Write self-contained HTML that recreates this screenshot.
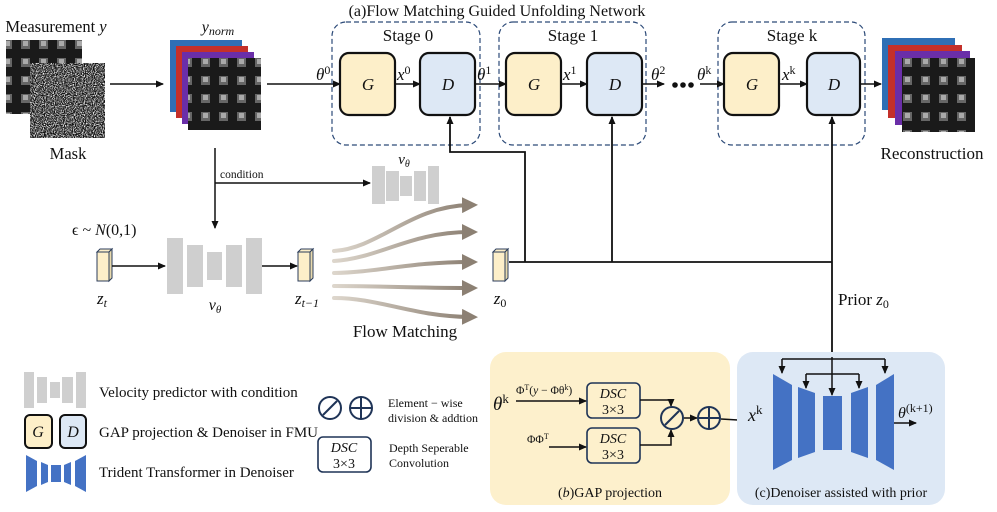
<!DOCTYPE html>
<html><head><meta charset="utf-8"><style>
html,body{margin:0;padding:0;background:#fff;}
svg{display:block;}
text{font-family:"Liberation Serif","DejaVu Serif",serif;fill:#111;}
.i{font-style:italic;}
</style></head><body>
<svg width="997" height="512" viewBox="0 0 997 512" xmlns="http://www.w3.org/2000/svg">
<defs>
<marker id="a" markerWidth="8" markerHeight="8" refX="7" refY="4" orient="auto" markerUnits="userSpaceOnUse"><path d="M0,0.5 L8,4 L0,7.5 Z" fill="#111"/></marker>
<marker id="fa" markerWidth="16" markerHeight="16" refX="8" refY="8" orient="auto" markerUnits="userSpaceOnUse"><path d="M0,0 L16,8 L0,16 Z" fill="#8c8073"/></marker>
<filter id="noise" x="0" y="0" width="100%" height="100%"><feTurbulence type="fractalNoise" baseFrequency="0.9" numOctaves="1" seed="3"/><feColorMatrix type="matrix" values="0 0 0 0 1  0 0 0 0 1  0 0 0 0 1  3 0 0 0 -1.2"/></filter>
<pattern id="cubes" width="18" height="18" patternUnits="userSpaceOnUse"><rect width="18" height="18" fill="#1a1a1a"/><rect x="3" y="4" width="9" height="9" fill="#666"/><rect x="5" y="5" width="5" height="5" fill="#aaa"/></pattern>
<linearGradient id="fg" x1="0" x2="1"><stop offset="0" stop-color="#ddd6cc"/><stop offset="1" stop-color="#8c8073"/></linearGradient>
</defs>

<text x="497" y="16" font-size="16" text-anchor="middle">(a)Flow Matching Guided Unfolding Network</text>

<text x="56" y="32" font-size="16.5" text-anchor="middle">Measurement <tspan class="i">y</tspan></text>
<rect x="6" y="40" width="76" height="74" fill="url(#cubes)"/>
<rect x="30" y="63" width="75" height="75" fill="#111"/>
<rect x="30" y="63" width="75" height="75" filter="url(#noise)"/>
<text x="68" y="159" font-size="16.5" text-anchor="middle">Mask</text>
<line x1="110" y1="84" x2="163" y2="84" stroke="#111" stroke-width="1.5" marker-end="url(#a)"/>

<text x="218" y="32" font-size="16" text-anchor="middle" class="i">y<tspan font-size="12" dy="3">norm</tspan></text>
<rect x="170" y="40" width="72" height="72" fill="#2f6fb5"/>
<rect x="176" y="46" width="72" height="72" fill="#c4302a"/>
<rect x="182" y="52" width="72" height="72" fill="#6a2ea8"/>
<rect x="188" y="58" width="73" height="72" fill="url(#cubes)"/>
<line x1="267" y1="84" x2="340" y2="84" stroke="#111" stroke-width="1.5" marker-end="url(#a)"/>
<text x="316" y="80" font-size="17" class="i">θ<tspan font-size="12" dy="-6" font-style="normal">0</tspan></text>

<g fill="none" stroke="#2c4a78" stroke-width="1.2" stroke-dasharray="5,3">
<rect x="332" y="22" width="148" height="123" rx="14"/>
<rect x="499" y="22" width="147" height="123" rx="14"/>
<rect x="718" y="22" width="147" height="123" rx="14"/>
</g>
<text x="408" y="41" font-size="17" text-anchor="middle">Stage 0</text>
<text x="573" y="41" font-size="17" text-anchor="middle">Stage 1</text>
<text x="792" y="41" font-size="17" text-anchor="middle">Stage k</text>
<g stroke="#111" stroke-width="2.2">
<rect x="340" y="53" width="55" height="62" rx="9" fill="#fdefc9"/>
<rect x="420" y="53" width="55" height="62" rx="9" fill="#dde8f5"/>
<rect x="506" y="53" width="55" height="62" rx="9" fill="#fdefc9"/>
<rect x="587" y="53" width="55" height="62" rx="9" fill="#dde8f5"/>
<rect x="724" y="53" width="55" height="62" rx="9" fill="#fdefc9"/>
<rect x="807" y="53" width="53" height="62" rx="9" fill="#dde8f5"/>
</g>
<g font-size="17" class="i" text-anchor="middle">
<text x="368" y="90">G</text><text x="448" y="90">D</text>
<text x="534" y="90">G</text><text x="615" y="90">D</text>
<text x="752" y="90">G</text><text x="834" y="90">D</text>
</g>
<g stroke="#111" stroke-width="1.5" marker-end="url(#a)">
<line x1="395" y1="84" x2="420" y2="84"/>
<line x1="475" y1="84" x2="506" y2="84"/>
<line x1="561" y1="84" x2="587" y2="84"/>
<line x1="642" y1="84" x2="664" y2="84"/>
<line x1="700" y1="84" x2="724" y2="84"/>
<line x1="779" y1="84" x2="807" y2="84"/>
<line x1="860" y1="84" x2="881" y2="84"/>
</g>
<g font-size="17" class="i">
<text x="397" y="80">x<tspan font-size="12" dy="-6" font-style="normal">0</tspan></text>
<text x="477" y="80">θ<tspan font-size="12" dy="-6" font-style="normal">1</tspan></text>
<text x="563" y="80">x<tspan font-size="12" dy="-6" font-style="normal">1</tspan></text>
<text x="651" y="80">θ<tspan font-size="12" dy="-6" font-style="normal">2</tspan></text>
<text x="697" y="80">θ<tspan font-size="12" dy="-6" font-style="normal">k</tspan></text>
<text x="782" y="80">x<tspan font-size="12" dy="-6" font-style="normal">k</tspan></text>
</g>
<circle cx="675" cy="85" r="2.8" fill="#111"/><circle cx="683" cy="85" r="2.8" fill="#111"/><circle cx="691" cy="85" r="2.8" fill="#111"/>

<rect x="882" y="38" width="73" height="72" fill="#2f6fb5"/>
<rect x="888" y="45" width="74" height="73" fill="#c4302a"/>
<rect x="895" y="51" width="75" height="74" fill="#6a2ea8"/>
<rect x="902" y="58" width="73" height="74" fill="url(#cubes)"/>
<text x="932" y="159" font-size="17" text-anchor="middle">Reconstruction</text>

<g stroke="#111" stroke-width="1.8" fill="none">
<polyline points="509,262 832,262"/>
<polyline points="525,262 525,152 450,152 450,117" marker-end="url(#a)"/>
<line x1="612" y1="262" x2="612" y2="117" marker-end="url(#a)"/>
<line x1="832" y1="262" x2="832" y2="117" marker-end="url(#a)"/>
<line x1="832" y1="262" x2="832" y2="357"/>
</g>
<text x="838" y="305" font-size="17">Prior <tspan class="i">z</tspan><tspan font-size="12" dy="3">0</tspan></text>

<g stroke="#111" stroke-width="1.5" fill="none">
<line x1="215" y1="148" x2="215" y2="228" marker-end="url(#a)"/>
<line x1="215" y1="183" x2="370" y2="183" marker-end="url(#a)"/>
</g>
<text x="220" y="178" font-size="11.5">condition</text>
<g fill="#cfcfcf">
<rect x="372" y="166" width="13" height="38"/><rect x="386" y="171" width="13" height="30"/><rect x="400" y="176" width="12" height="20"/><rect x="414" y="171" width="12" height="30"/><rect x="428" y="166" width="11" height="38"/>
</g>
<text x="404" y="164" font-size="15" class="i" text-anchor="middle">v<tspan font-size="10" dy="3">θ</tspan></text>

<text x="72" y="235" font-size="16">ϵ ~ <tspan class="i">N</tspan>(0,1)</text>
<g stroke="#2c3e5c" stroke-width="1">
<polygon points="97,252 100,249 112,249 109,252" fill="#fdefc9"/><polygon points="109,252 112,249 112,278 109,281" fill="#e8d9ad"/><rect x="97" y="252" width="12" height="29" fill="#fdefc9"/>
<polygon points="298,252 301,249 313,249 310,252" fill="#fdefc9"/><polygon points="310,252 313,249 313,278 310,281" fill="#e8d9ad"/><rect x="298" y="252" width="12" height="29" fill="#fdefc9"/>
<polygon points="493,252 496,249 508,249 505,252" fill="#fdefc9"/><polygon points="505,252 508,249 508,278 505,281" fill="#e8d9ad"/><rect x="493" y="252" width="12" height="29" fill="#fdefc9"/>
</g>
<text x="102" y="304" font-size="17" class="i" text-anchor="middle">z<tspan font-size="12" dy="3">t</tspan></text>
<text x="307" y="304" font-size="17" class="i" text-anchor="middle">z<tspan font-size="12" dy="3">t−1</tspan></text>
<text x="500" y="304" font-size="17" class="i" text-anchor="middle">z<tspan font-size="12" dy="3" font-style="normal">0</tspan></text>
<g stroke="#111" stroke-width="1.5">
<line x1="112" y1="266" x2="165" y2="266" marker-end="url(#a)"/>
<line x1="262" y1="266" x2="297" y2="266" marker-end="url(#a)"/>
</g>
<g fill="#cfcfcf">
<rect x="167" y="238" width="16" height="56"/><rect x="187" y="245" width="16" height="42"/><rect x="207" y="252" width="15" height="28"/><rect x="226" y="245" width="16" height="42"/><rect x="246" y="238" width="16" height="56"/>
</g>
<text x="215" y="310" font-size="16" class="i" text-anchor="middle">v<tspan font-size="11" dy="3">θ</tspan></text>
<g fill="none" stroke="url(#fg)" stroke-width="4" stroke-linecap="round">
<path d="M334,251 C380,248 410,206 470,205" marker-end="url(#fa)"/>
<path d="M334,261 C380,258 410,232 470,232" marker-end="url(#fa)"/>
<path d="M334,273 C380,272 410,262 470,262" marker-end="url(#fa)"/>
<path d="M334,286 C380,286 410,288 470,288" marker-end="url(#fa)"/>
<path d="M334,298 C380,298 410,316 470,317" marker-end="url(#fa)"/>
</g>
<text x="405" y="337" font-size="17" text-anchor="middle">Flow Matching</text>

<g fill="#cfcfcf">
<rect x="24" y="372" width="10" height="36"/><rect x="37" y="377" width="10" height="26"/><rect x="50" y="382" width="10" height="16"/><rect x="62" y="377" width="11" height="26"/><rect x="76" y="372" width="10" height="36"/>
</g>
<text x="99" y="397" font-size="15">Velocity predictor with condition</text>
<rect x="25" y="415" width="27" height="33" rx="5" fill="#fdefc9" stroke="#111" stroke-width="2"/>
<rect x="60" y="415" width="26" height="33" rx="5" fill="#dde8f5" stroke="#111" stroke-width="2"/>
<text x="38" y="437" font-size="16" class="i" text-anchor="middle">G</text>
<text x="73" y="437" font-size="16" class="i" text-anchor="middle">D</text>
<text x="99" y="437" font-size="15">GAP projection &amp; Denoiser in FMU</text>
<g fill="#4472c4">
<polygon points="26,455 37,461 37,486 26,492"/><polygon points="41,462 48,465 48,482 41,485"/><rect x="51" y="465" width="10" height="17"/><polygon points="64,465 71,462 71,485 64,482"/><polygon points="75,461 86,455 86,492 75,486"/>
</g>
<text x="99" y="477" font-size="15">Trident Transformer in Denoiser</text>
<g stroke="#1f3457" stroke-width="2" fill="none">
<circle cx="330" cy="408" r="11"/><line x1="323" y1="415" x2="337" y2="401"/>
<circle cx="361" cy="408" r="11"/><line x1="350" y1="408" x2="372" y2="408"/><line x1="361" y1="397" x2="361" y2="419"/>
<rect x="318" y="437" width="53" height="35" rx="5" stroke-width="1.6"/>
</g>
<text x="344" y="452" font-size="14" class="i" text-anchor="middle">DSC</text>
<text x="344" y="468" font-size="14" text-anchor="middle">3×3</text>
<text x="388" y="407" font-size="12">Element − wise</text>
<text x="388" y="422" font-size="12">division &amp; addtion</text>
<text x="389" y="452" font-size="12">Depth Seperable</text>
<text x="389" y="467" font-size="12">Convolution</text>

<rect x="490" y="352" width="240" height="153" rx="16" fill="#fdf0cc"/>
<text x="493" y="410" font-size="19" class="i">θ<tspan font-size="13" dy="-7" font-style="normal">k</tspan></text>
<text x="516" y="394" font-size="11.5">Φ<tspan font-size="8" dy="-4">T</tspan><tspan dy="4">(</tspan><tspan class="i">y</tspan> − Φθ<tspan font-size="8" dy="-4">k</tspan><tspan dy="4">)</tspan></text>
<text x="527" y="443" font-size="11.5">ΦΦ<tspan font-size="8" dy="-4">T</tspan></text>
<g stroke="#1f3457" stroke-width="1.6" fill="none">
<rect x="587" y="383" width="53" height="35" rx="5"/>
<rect x="587" y="428" width="53" height="35" rx="5"/>
</g>
<text x="613" y="398" font-size="14" class="i" text-anchor="middle">DSC</text>
<text x="613" y="414" font-size="14" text-anchor="middle">3×3</text>
<text x="613" y="443" font-size="14" class="i" text-anchor="middle">DSC</text>
<text x="613" y="459" font-size="14" text-anchor="middle">3×3</text>
<g stroke="#111" stroke-width="1.5" fill="none">
<line x1="516" y1="401" x2="586" y2="401" marker-end="url(#a)"/>
<line x1="549" y1="447" x2="586" y2="447" marker-end="url(#a)"/>
<polyline points="640,400 671,400 671,406" marker-end="url(#a)"/>
<polyline points="640,445 671,445 671,430" marker-end="url(#a)"/>
<line x1="684" y1="418" x2="697" y2="418" marker-end="url(#a)"/>
<line x1="721" y1="419" x2="772" y2="422" marker-end="url(#a)"/>
</g>
<g stroke="#1f3457" stroke-width="2" fill="none">
<circle cx="672" cy="418" r="11"/><line x1="665" y1="425" x2="679" y2="411"/>
<circle cx="709" cy="418" r="11"/><line x1="698" y1="418" x2="720" y2="418"/><line x1="709" y1="407" x2="709" y2="429"/>
</g>
<text x="610" y="497" font-size="14" text-anchor="middle">(<tspan class="i">b</tspan>)GAP projection</text>

<rect x="737" y="352" width="208" height="153" rx="16" fill="#dde8f5"/>
<text x="748" y="421" font-size="18" class="i">x<tspan font-size="13" dy="-7" font-style="normal">k</tspan></text>
<g fill="#4472c4">
<polygon points="773,374 792,385 792,460 773,470"/>
<polygon points="798,387 815,393 815,452 798,458"/>
<rect x="823" y="396" width="19" height="54"/>
<polygon points="851,393 868,387 868,458 851,452"/>
<polygon points="876,385 894,374 894,470 876,460"/>
</g>
<g stroke="#111" stroke-width="1.5" fill="none">
<polyline points="782,359 885,359"/>
<line x1="782" y1="359" x2="782" y2="373" marker-end="url(#a)"/>
<line x1="885" y1="359" x2="885" y2="373" marker-end="url(#a)"/>
<polyline points="806,374 859,374"/>
<line x1="806" y1="374" x2="806" y2="388" marker-end="url(#a)"/>
<line x1="859" y1="374" x2="859" y2="388" marker-end="url(#a)"/>
<line x1="832" y1="357" x2="832" y2="395" marker-end="url(#a)"/>
<line x1="894" y1="423" x2="916" y2="423" marker-end="url(#a)"/>
</g>
<text x="898" y="418" font-size="16" class="i">θ<tspan font-size="12" dy="-6" font-style="normal">(k+1)</tspan></text>
<text x="841" y="497" font-size="14" text-anchor="middle">(c)Denoiser assisted with prior</text>
</svg>
</body></html>
